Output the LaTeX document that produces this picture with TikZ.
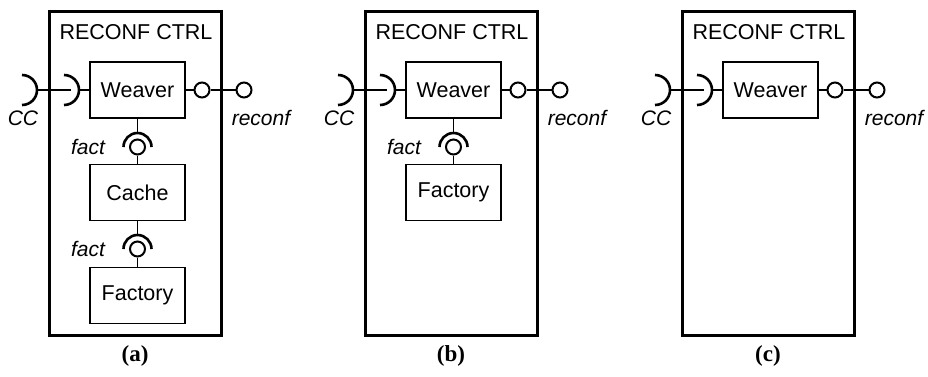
\documentclass[tikz,border=0pt]{standalone}
\usepackage{fontspec}
\setmainfont{Liberation Sans}
\newfontfamily\capfont{Liberation Serif}
\usetikzlibrary{calc}

\tikzset{
  comp/.style={draw, line width=1.6pt, minimum width=95pt, minimum height=56pt,
    inner sep=0pt, font=\fontsize{21.5}{25}\selectfont},
  ctrlbox/.style={draw, line width=3pt},
  titletext/.style={font=\fontsize{21.5}{25}\selectfont},
  ball/.style={draw, circle, line width=2pt, minimum size=15pt, inner sep=0pt},
  wire/.style={line width=1.6pt},
  sock/.style={line width=2.6pt},
  lbl/.style={font=\fontsize{21}{24}\selectfont\itshape},
  captext/.style={font=\fontsize{23}{26}\selectfont\capfont\bfseries}
}

% one reconfiguration controller: outer frame, Weaver with its ports
\newcommand{\ctrlframe}[2]{%
  \node[ctrlbox, minimum width=172pt, minimum height=324pt, inner sep=0pt]
    (#1-frame) at (135,203) {};
  \node[titletext] (#1-title) at (136,344) {RECONF CTRL};
  \node[comp] (#1-weaver) at (137.5,286) {Weaver};
  % required port CC (outer and inner socket)
  \coordinate (#1-ccout) at (37,286);
  \coordinate (#1-ccin) at (71,286);
  \coordinate (#1-ccinapex) at (79,286);
  \draw[sock] (22,271) arc[start angle=-90, end angle=90, radius=15pt];
  \draw[sock] (64,271) arc[start angle=-90, end angle=90, radius=15pt];
  \draw[wire] (#1-ccout) -- (#1-ccin);
  \draw[wire] (#1-ccinapex) -- (#1-weaver.west);
  \node[lbl] (#1-cc) at (23,258) {CC};
  % provided port reconf (inner and outer ball)
  \node[ball] (#1-r1) at (202,286) {};
  \node[ball] (#1-r2) at (244,286) {};
  \draw[wire] (#1-weaver.east) -- (#1-r1.west);
  \draw[wire] (#1-r1.east) -- (#1-r2.west);
  \node[lbl] (#1-reconf) at (261,258) {reconf};
  \node[captext] (#1-caption) at (135,20) {(#2)};
}

% assembly connector "fact" between an upper and a lower component
\newcommand{\factlink}[4]{%
  \node[ball] (#1) at (137.5,#4) {};
  \coordinate (#1-top) at (137.5,#4+14);
  \draw[sock] ($(#1)+(-14,0)$) arc[start angle=180, end angle=0, radius=14pt];
  \draw[wire] (#2.south) -- (#1-top);
  \draw[wire] (#1.south) -- (#3.north);
  \node[lbl] (#1-lbl) at (88,#4) {fact};
}

\begin{document}
\begin{tikzpicture}[x=1pt, y=1pt]
\useasboundingbox (0,0) rectangle (928,376);

% (a) Weaver -> Cache -> Factory
\begin{scope}
  \ctrlframe{a}{a}
  \node[comp] (a-cache) at (137.5,183.5) {Cache};
  \node[comp] (a-factory) at (137.5,80.5) {Factory};
  \factlink{a-f1}{a-weaver}{a-cache}{229}
  \factlink{a-f2}{a-cache}{a-factory}{127}
\end{scope}

% (b) Weaver -> Factory
\begin{scope}[shift={(316,0)}]
  \ctrlframe{b}{b}
  \node[comp] (b-factory) at (137.5,183.5) {Factory};
  \factlink{b-f1}{b-weaver}{b-factory}{229}
\end{scope}

% (c) Weaver alone
\begin{scope}[shift={(633,0)}]
  \ctrlframe{c}{c}
\end{scope}
\end{tikzpicture}
\end{document}
